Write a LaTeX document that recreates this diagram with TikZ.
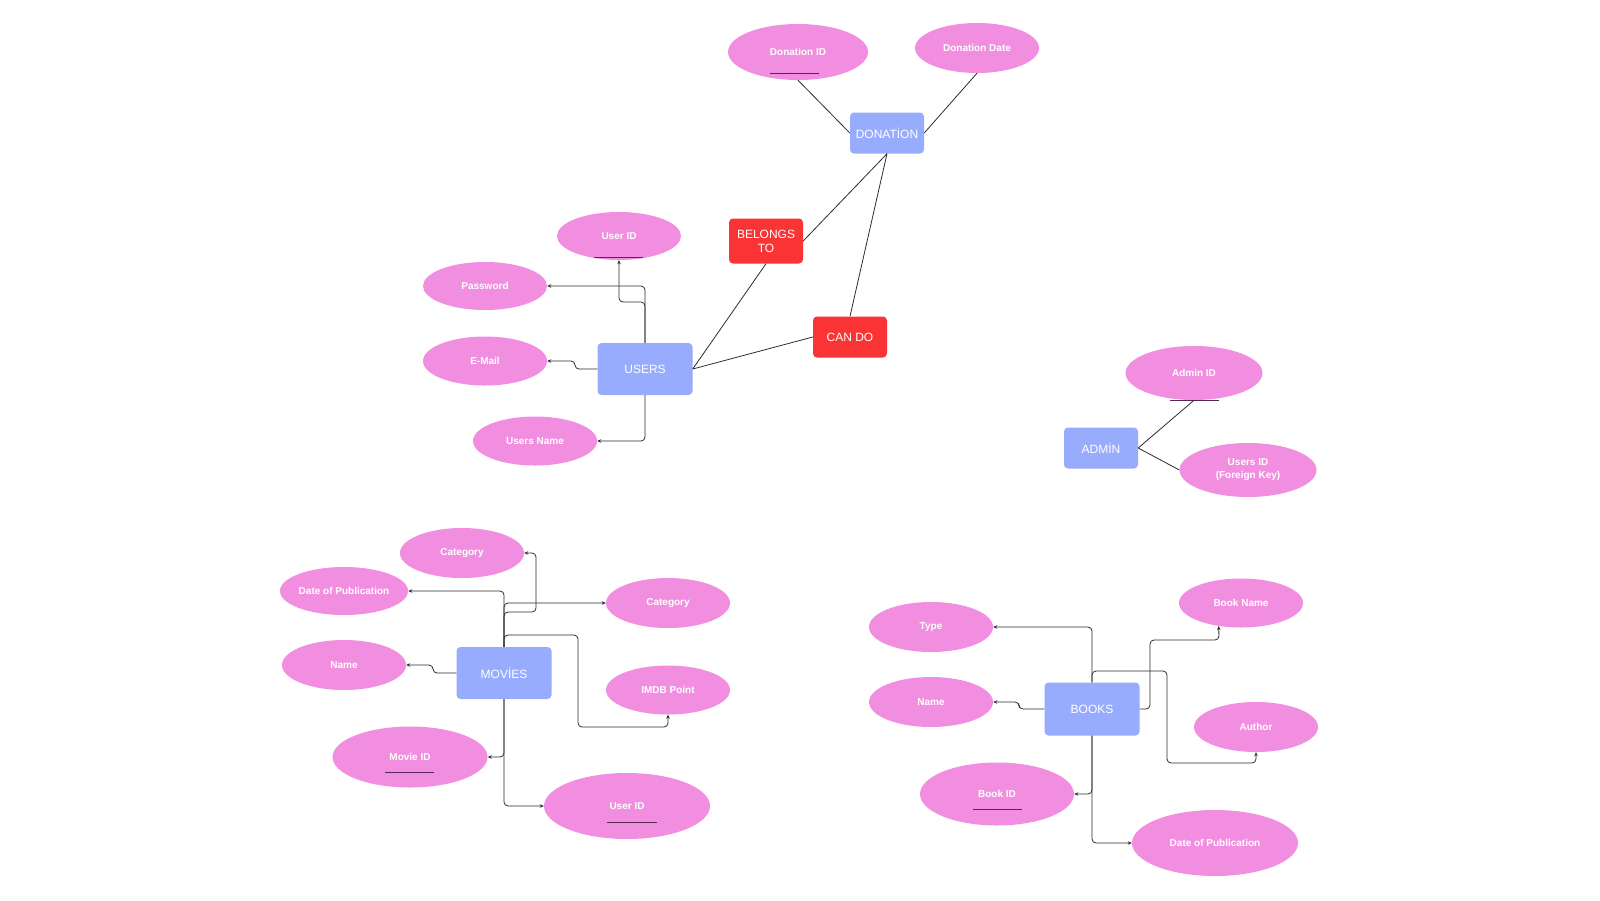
\documentclass[tikz,border=0pt]{standalone}
\usepackage{fontspec}
\setmainfont{Liberation Sans}
\usetikzlibrary{arrows.meta,shapes.geometric}

\definecolor{attrpink}{RGB}{242,142,224}
\definecolor{entblue}{RGB}{152,172,253}
\definecolor{relred}{RGB}{250,52,52}
\definecolor{wire}{RGB}{45,45,45}
\definecolor{keyline}{RGB}{85,40,85}

\begin{document}
\begin{tikzpicture}[x=1pt,y=-1pt,
  attr/.style={ellipse, fill=attrpink, text=white, inner sep=0pt, align=center,
    font=\bfseries\fontsize{10}{13}\selectfont},
  entity/.style={rectangle, rounded corners=4pt, fill=entblue, text=white, inner sep=0pt,
    minimum width=95, minimum height=52, font=\fontsize{12}{14}\selectfont},
  rel/.style={rectangle, rounded corners=4pt, fill=relred, text=white, inner sep=0pt,
    minimum width=74, minimum height=41, align=center, font=\fontsize{12}{14}\selectfont},
  conn/.style={draw=wire, line width=0.8pt, rounded corners=4pt,
    -{Stealth[length=4pt,width=3.5pt]}},
  link/.style={draw=wire, line width=0.8pt},
  keyul/.style={draw=keyline, line width=1pt}]

\fill[white] (0,0) rectangle (1600,900);
\useasboundingbox (0,0) rectangle (1600,900);

% ---------- Donation ----------
\node[attr, minimum width=140, minimum height=56] (did)   at (798,52)  {Donation ID};
\node[attr, minimum width=124, minimum height=50] (ddate) at (977,48)  {Donation Date};
\node[entity, minimum width=74, minimum height=41] (don)  at (887,133) {DONATİON};

% ---------- Users ----------
\node[attr, minimum width=124, minimum height=48] (uid)   at (619,236) {User ID};
\node[attr, minimum width=124, minimum height=48] (pw)    at (485,286) {Password};
\node[attr, minimum width=124, minimum height=49] (mail)  at (485,361) {E-Mail};
\node[attr, minimum width=124, minimum height=49] (uname) at (535,441) {Users Name};
\node[entity] (users) at (645,369) {USERS};

% ---------- Relationships ----------
\node[rel, minimum height=45] (bel)   at (766,241) {BELONGS\\TO};
\node[rel] (cando) at (850,337) {CAN DO};

% ---------- Admin ----------
\node[attr, minimum width=137, minimum height=54] (aid)   at (1194,373) {Admin ID};
\node[entity, minimum width=74, minimum height=41] (admin) at (1101,448) {ADMİN};
\node[attr, minimum width=137, minimum height=54] (fk)    at (1248,470) {Users ID\\(Foreign Key)};

% ---------- Movies ----------
\node[attr, minimum width=124, minimum height=50] (mcat1) at (462,553) {Category};
\node[attr, minimum width=124, minimum height=48] (mdop)  at (344,591) {Date of Publication};
\node[attr, minimum width=124, minimum height=50] (mcat2) at (668,603) {Category};
\node[attr, minimum width=124, minimum height=50] (mname) at (344,665) {Name};
\node[entity] (movies) at (504,673) {MOVİES};
\node[attr, minimum width=124, minimum height=49] (imdb)  at (668,690) {IMDB Point};
\node[attr, minimum width=155, minimum height=61] (mid)   at (410,757) {Movie ID};
\node[attr, minimum width=166, minimum height=66] (muid)  at (627,806) {User ID};

% ---------- Books ----------
\node[attr, minimum width=124, minimum height=50] (btype) at (931,627)  {Type};
\node[attr, minimum width=124, minimum height=49] (bname) at (1241,603) {Book Name};
\node[attr, minimum width=124, minimum height=50] (bkname) at (931,702) {Name};
\node[entity, minimum height=53] (books) at (1092,709) {BOOKS};
\node[attr, minimum width=124, minimum height=50] (bauth) at (1256,727) {Author};
\node[attr, minimum width=154, minimum height=63] (bid)   at (997,794)  {Book ID};
\node[attr, minimum width=166, minimum height=66] (bdop)  at (1215,843) {Date of Publication};

% ---------- key underlines ----------
\draw[keyul] ([shift={(-28,21)}]did.center)  -- ([shift={(21,21)}]did.center);
\draw[keyul] ([shift={(-25,21)}]uid.center)  -- ([shift={(24,21)}]uid.center);
\draw[keyul] ([shift={(-24,27)}]aid.center)  -- ([shift={(25,27)}]aid.center);
\draw[keyul] ([shift={(-25,15)}]mid.center)  -- ([shift={(24,15)}]mid.center);
\draw[keyul] ([shift={(-20,16)}]muid.center) -- ([shift={(30,16)}]muid.center);
\draw[keyul] ([shift={(-24,15)}]bid.center)  -- ([shift={(25,15)}]bid.center);

% ---------- straight links ----------
\draw[link] (did.south) -- (don.west);
\draw[link] (ddate.south) -- (don.east);
\draw[link] (bel.east) -- (don.south);
\draw[link] (bel.south) -- (users.east);
\draw[link] (cando.north) -- (don.south);
\draw[link] (cando.west) -- (users.east);
\draw[link] (admin.east) -- (aid.south);
\draw[link] (admin.east) -- (fk.west);

% ---------- users attributes ----------
\draw[conn] (users.north) |- (pw.east);
\draw[conn] (users.north) -- (645,302) -- (619,302) -- (uid.south);
\draw[conn] (users.west) -- (575,369) -- (575,361) -- (mail.east);
\draw[conn] (users.south) |- (uname.east);

% ---------- movies attributes ----------
\draw[conn] (movies.north) |- (mdop.east);
\draw[conn] (movies.north) -- (504,612) -- (536,612) -- (536,553) -- (mcat1.east);
\draw[conn] (movies.north) |- (mcat2.west);
\draw[conn] (movies.north) -- (504,635) -- (578,635) -- (578,727) -- (668,727) -- (imdb.south);
\draw[conn] (movies.west) -- (433,673) -- (433,665) -- (mname.east);
\draw[conn] (movies.south) |- (mid.east);
\draw[conn] (movies.south) |- (muid.west);

% ---------- books attributes ----------
\draw[conn] (books.north) |- (btype.east);
\draw[conn] (books.east) -- (1150,709) -- (1150,640) -- (1219,640) -- (bname.226);
\draw[conn] (books.north) -- (1092,671) -- (1167,671) -- (1167,763) -- (1256,763) -- (bauth.south);
\draw[conn] (books.west) -- (1019,709) -- (1019,702) -- (bkname.east);
\draw[conn] (books.south) |- (bid.east);
\draw[conn] (books.south) |- (bdop.west);

\end{tikzpicture}
\end{document}
